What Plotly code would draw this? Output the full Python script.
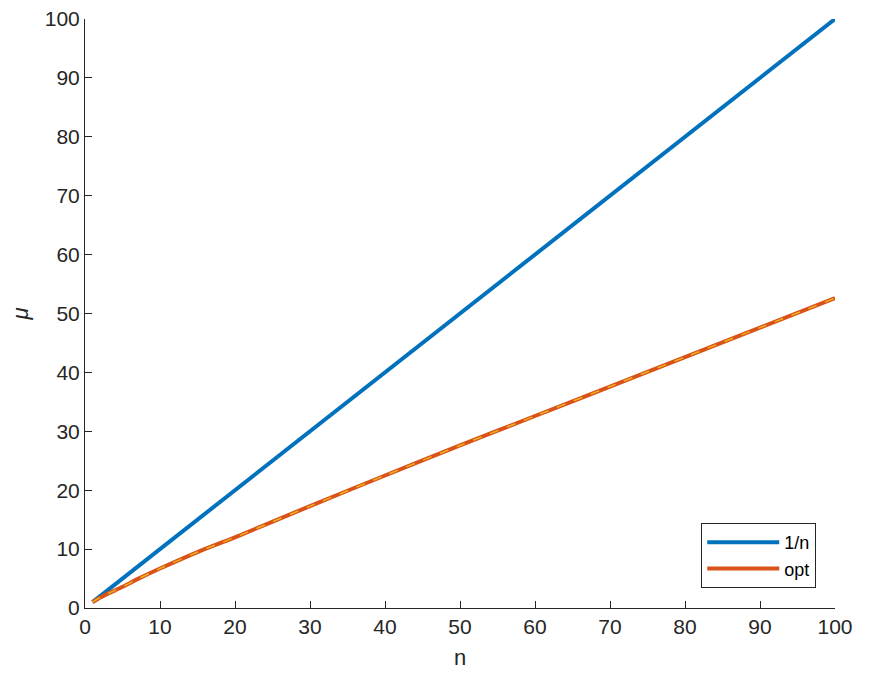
import plotly.graph_objects as go

n_blue = [1, 100]
mu_blue = [1, 100]

n_opt = [1, 2, 3, 4, 5, 7, 10, 15, 20, 30, 40, 50, 60, 70, 80, 90, 100]
mu_opt = [1.0, 1.75, 2.4, 3.0, 3.6, 4.9, 6.7, 9.5, 12.0, 17.3, 22.5, 27.6, 32.6, 37.6, 42.6, 47.6, 52.6]

x_ticks = [0, 10, 20, 30, 40, 50, 60, 70, 80, 90, 100]
y_ticks = [0, 10, 20, 30, 40, 50, 60, 70, 80, 90, 100]

fig = go.Figure()
fig.add_trace(go.Scatter(x=n_blue, y=mu_blue, mode="lines", name="1/n",
                         line=dict(color="#0072BD", width=4)))
fig.add_trace(go.Scatter(x=n_opt, y=mu_opt, mode="lines", name="opt",
                         line=dict(color="#D95319", width=4, shape="spline", smoothing=0.6)))
fig.add_trace(go.Scatter(x=n_opt, y=mu_opt, mode="lines", showlegend=False,
                         line=dict(color="#EDB120", width=1.5, dash="dash", shape="spline", smoothing=0.6)))

axis_common = dict(
    showgrid=False, zeroline=False, showline=True, linecolor="#262626", linewidth=1,
    ticks="inside", ticklen=7, tickcolor="#262626", mirror=False, automargin=False,
    ticklabeloverflow="allow",
    tickfont=dict(family="Liberation Sans, Arial, sans-serif", size=21, color="#262626"),
)

fig.update_layout(
    width=855, height=662,
    margin=dict(l=77, r=28, t=11, b=62, autoexpand=False),
    plot_bgcolor="white", paper_bgcolor="white",
    font=dict(family="Liberation Sans, Arial, sans-serif", color="#262626"),
    xaxis=dict(range=[0, 100], tickvals=x_ticks,
               title=dict(text="n", font=dict(size=22), standoff=16), **axis_common),
    yaxis=dict(range=[0, 100], tickvals=y_ticks,
               title=dict(text="<i>μ</i>", font=dict(size=22), standoff=12), **axis_common),
    legend=dict(x=0.975, y=0.034, xanchor="right", yanchor="bottom",
                bgcolor="white", bordercolor="#262626", borderwidth=1,
                itemwidth=72, tracegroupgap=0,
                font=dict(size=18, color="#000000")),
    showlegend=True,
)

fig.write_html("out.html")
